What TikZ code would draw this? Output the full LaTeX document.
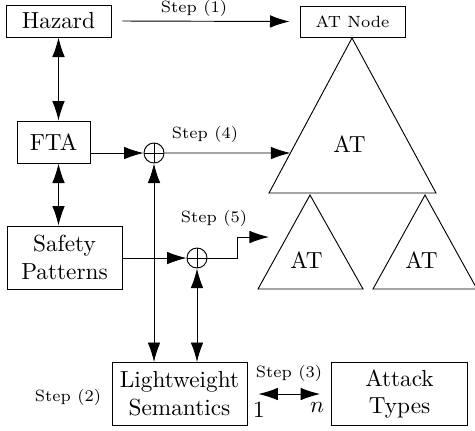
\documentclass[tikz,border=0pt]{standalone}
\usetikzlibrary{arrows.meta,calc}
\begin{document}
\begin{tikzpicture}[x=0.43pt,y=-0.43pt,
  box/.style={draw, inner sep=0pt, align=center, font=\normalsize},
  lbl/.style={font=\scriptsize, inner sep=0pt},
  txt/.style={font=\normalsize, inner sep=0pt},
  arr/.style={-{Latex[length=8.4pt,width=5.4pt]}},
  dbl/.style={{Latex[length=8.4pt,width=5.4pt]}-{Latex[length=8.4pt,width=5.4pt]}},
  oplus/.style={circle, draw, minimum size=8.6pt, inner sep=0pt,
    path picture={\draw (path picture bounding box.north) -- (path picture bounding box.south)
      (path picture bounding box.west) -- (path picture bounding box.east);}}]
\useasboundingbox (0,0) rectangle (475,430);
% boxes
\node[box, minimum width=45.15pt, minimum height=13.76pt] (hazard) at (58.5,21) {Hazard};
\node[box, minimum width=45.15pt, minimum height=13.3pt, font=\scriptsize] (atnode) at (352.5,21.5) {AT Node};
\node[box, minimum width=31.4pt, minimum height=18.06pt] (fta) at (53.5,142) {FTA};
\node[box, minimum width=49.45pt, minimum height=27.1pt] (safety) at (64.5,257.5) {Safety\\Patterns};
\node[box, minimum width=58.05pt, minimum height=27.1pt] (lw) at (179.5,394) {Lightweight\\Semantics};
\node[box, minimum width=58.5pt, minimum height=27.1pt] (atk) at (399.5,394) {Attack\\Types};
% oplus
\node[oplus] (o1) at (154,153) {};
\node[oplus] (o2) at (197,258) {};
% triangles
\coordinate (bA) at (352,38); \coordinate (bL) at (269,193); \coordinate (bR) at (436,193);
\coordinate (lA) at (310,195); \coordinate (lL) at (258,289); \coordinate (lR) at (363,289);
\coordinate (rA) at (425,195); \coordinate (rL) at (373,289); \coordinate (rR) at (477,289);
\draw (bA) -- (bL) -- (bR) -- cycle;
\draw (lA) -- (lL) -- (lR) -- cycle;
\draw (rA) -- (rL) -- (rR) -- cycle;
\node[txt] (atbig) at (349.5,144) {AT};
\node[txt] (atl) at (306.5,260) {AT};
\node[txt] (atr) at (421.5,260) {AT};
\coordinate (bin) at ($(bA)!0.742!(bL)$);
\coordinate (s5bend) at (237,237);
\coordinate (s5) at (269,237);
% connectors
\draw[arr] ([xshift=4.7pt]hazard.east) -- ([xshift=-4.3pt]atnode.west);
\draw[dbl] (hazard.south) -- (hazard.south |- fta.north);
\draw[dbl] (hazard.south |- fta.south) -- (hazard.south |- safety.north);
\draw[arr] (fta.east |- o1) -- (o1.west);
\draw[arr] (o1.east) -- (bin);
\draw[arr] (safety.east |- o2) -- (o2.west);
\draw[arr] (o2.east) -- (o2.east -| s5bend) |- (s5);
\draw[dbl] (o1.south) -- (o1.south |- lw.north);
\draw[dbl] (o2.south) -- (o2.south |- lw.north);
\draw[dbl] ([xshift=4.7pt]lw.east) -- ([xshift=-4.7pt]atk.west);
% labels
\node[lbl] (st1) at (194,8) {Step (1)};
\node[lbl] (st2) at (68,397) {Step (2)};
\node[lbl] (st3) at (289,373) {Step (3)};
\node[lbl] (st4) at (205,134) {Step (4)};
\node[lbl] (st5) at (214,218) {Step (5)};
\node[txt] (one) at (259,410) {1};
\node[txt] (enn) at (317,407) {$n$};
\end{tikzpicture}
\end{document}
